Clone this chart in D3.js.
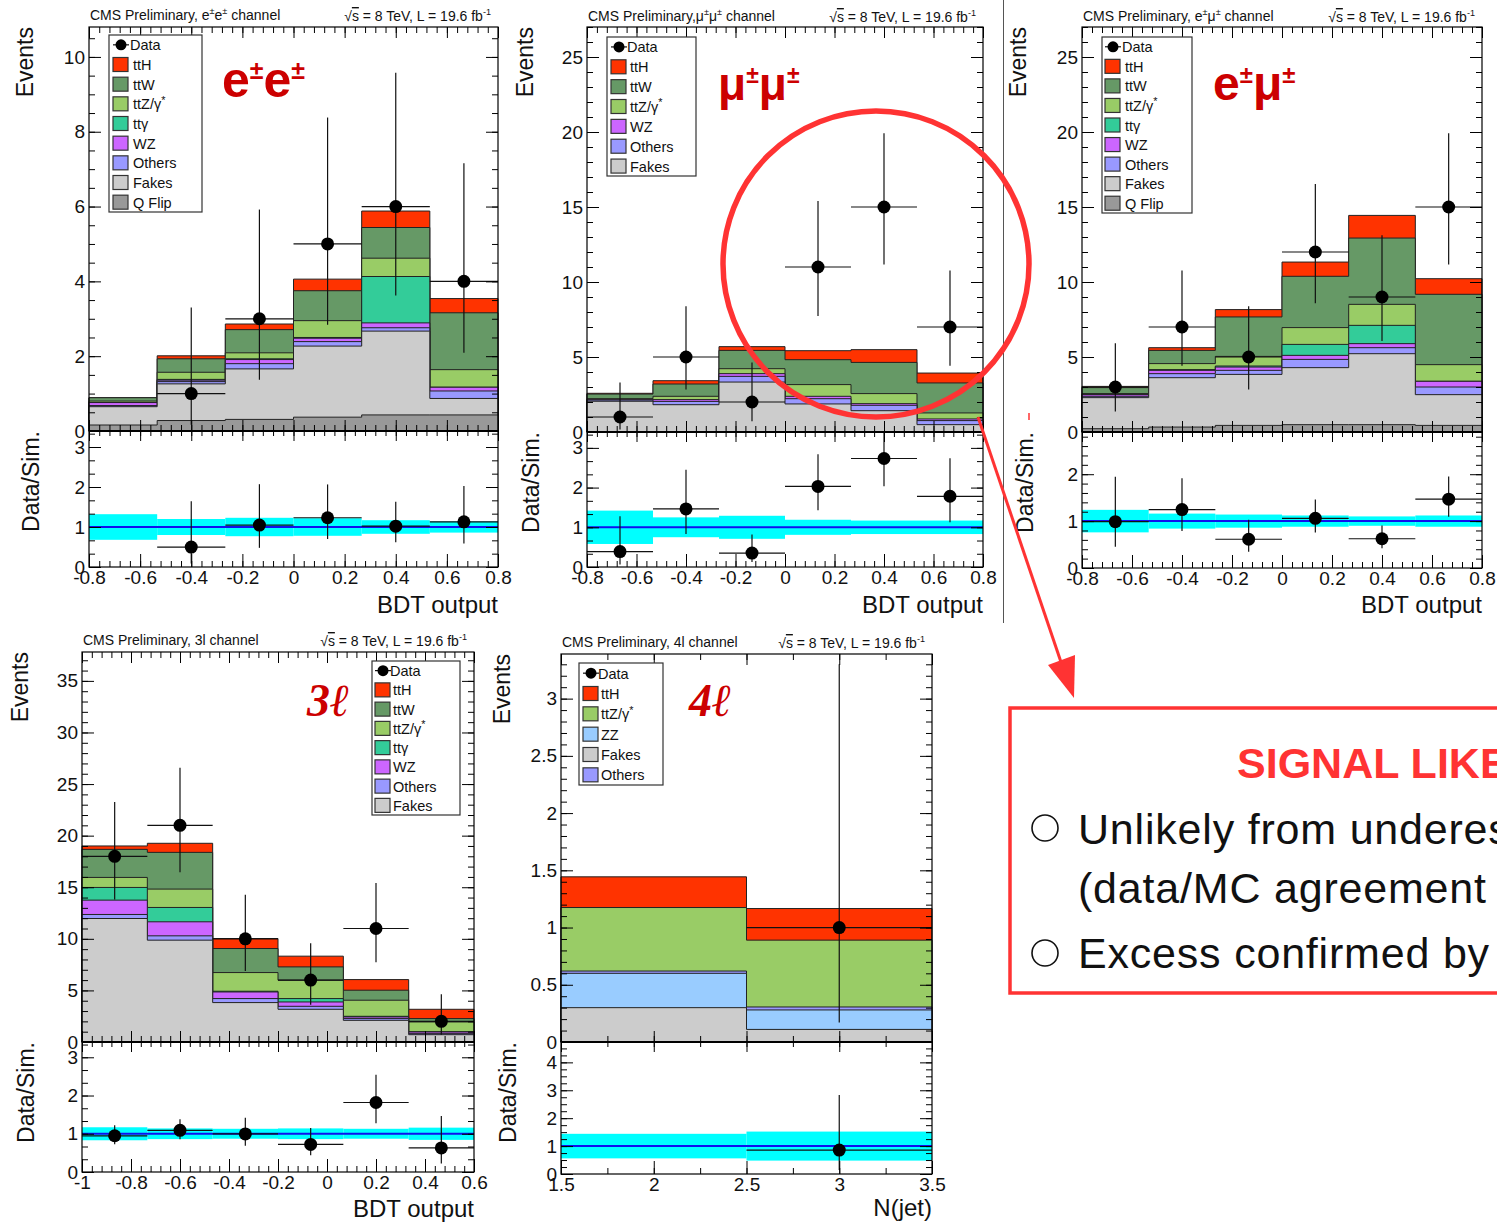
<!DOCTYPE html>
<html>
<head>
<meta charset="utf-8">
<script src="https://cdn.jsdelivr.net/npm/d3@7"></script>
<style>
  body { margin: 0; background: #fff; }
  svg { display: block; font-family: "Liberation Sans", Arial, sans-serif; }
</style>
</head>
<body>
<svg id="fig" width="1497" height="1225"></svg>
<script>
// ---------------- bin edges and tick labels ----------------
const bdtEdges    = [-0.8, -0.5333, -0.2667, 0, 0.2667, 0.5333, 0.8];
const bdtEdges3l  = [-1, -0.7333, -0.4667, -0.2, 0.0667, 0.3333, 0.6];
const njetEdges4l = [1.5, 2.5, 3.5];

const bdtTicks    = [-0.8, -0.6, -0.4, -0.2, 0, 0.2, 0.4, 0.6, 0.8];
const bdtTicks3l  = [-1, -0.8, -0.6, -0.4, -0.2, 0, 0.2, 0.4, 0.6];
const njetTicks   = [1.5, 2, 2.5, 3, 3.5];
const eeYTicks    = [0, 2, 4, 6, 8, 10];
const mmYTicks    = [0, 5, 10, 15, 20, 25];
const emYTicks    = [0, 5, 10, 15, 20, 25];
const l3YTicks    = [0, 5, 10, 15, 20, 25, 30, 35];
const l4YTicks    = [0, 0.5, 1, 1.5, 2, 2.5, 3];
const ratioTicks  = [0, 1, 2, 3];
const ratioTicksEm = [0, 1, 2];
const ratioTicks4l = [0, 1, 2, 3, 4];

// ---------------- e±e± channel ----------------
const eeData    = [0, 1, 3, 5, 6, 4];
const eeErrUp   = [0, 2.30, 2.92, 3.38, 3.58, 3.16];
const eeErrDown = [0, 0.83, 1.63, 2.16, 2.38, 1.91];
const eeQFlip   = [0.16, 0.28, 0.31, 0.37, 0.43, 0.43];
const eeFakes   = [0.49, 0.98, 1.35, 1.90, 2.24, 0.44];
const eeOthers  = [0.03, 0.06, 0.14, 0.12, 0.09, 0.20];
const eeWZ      = [0.08, 0.04, 0.11, 0.09, 0.13, 0.10];
const eeTTgamma = [0.00, 0.02, 0.02, 0.02, 1.24, 0.00];
const eeTTZ     = [0.04, 0.19, 0.16, 0.45, 0.49, 0.47];
const eeTTW     = [0.09, 0.36, 0.62, 0.80, 0.82, 1.52];
const eeTTH     = [0.00, 0.08, 0.15, 0.31, 0.44, 0.38];
const eeSyst    = [0.32, 0.20, 0.23, 0.22, 0.17, 0.14];

// ---------------- μ±μ± channel ----------------
const mmData    = [1, 5, 2, 11, 15, 7];
const mmErrUp   = [2.30, 3.38, 2.64, 4.40, 4.92, 3.77];
const mmErrDown = [0.83, 2.16, 1.29, 3.27, 3.83, 2.58];
const mmFakes   = [2.05, 1.82, 3.33, 1.87, 1.42, 0.49];
const mmOthers  = [0.08, 0.22, 0.38, 0.35, 0.36, 0.27];
const mmWZ      = [0.05, 0.12, 0.18, 0.16, 0.11, 0.11];
const mmTTZ     = [0.04, 0.22, 0.33, 0.78, 0.67, 0.40];
const mmTTW     = [0.31, 0.82, 1.22, 1.66, 2.08, 2.00];
const mmTTH     = [0.05, 0.22, 0.25, 0.60, 0.85, 0.66];
const mmSyst    = [0.42, 0.25, 0.29, 0.19, 0.17, 0.17];

// ---------------- e±μ± channel ----------------
const emData    = [3, 7, 5, 12, 9, 15];
const emErrUp   = [2.92, 3.77, 3.38, 4.53, 4.11, 4.92];
const emErrDown = [1.63, 2.58, 2.16, 3.42, 2.94, 3.83];
const emQFlip   = [0.22, 0.33, 0.44, 0.49, 0.49, 0.44];
const emFakes   = [2.07, 3.29, 3.40, 3.80, 4.73, 2.05];
const emOthers  = [0.09, 0.27, 0.27, 0.55, 0.40, 0.51];
const emWZ      = [0.11, 0.22, 0.22, 0.27, 0.27, 0.38];
const emTTgamma = [0.02, 0.05, 0.07, 0.73, 1.22, 0.00];
const emTTZ     = [0.05, 0.40, 0.64, 1.12, 1.40, 1.11];
const emTTW     = [0.40, 0.88, 2.63, 3.42, 4.42, 4.69];
const emTTH     = [0.08, 0.18, 0.49, 0.95, 1.51, 1.04];
const emSyst    = [0.24, 0.16, 0.14, 0.12, 0.10, 0.12];

// ---------------- 3l channel ----------------
const l3Data    = [18, 21, 10, 6, 11, 2];
const l3ErrUp   = [5.27, 5.59, 4.26, 3.58, 4.40, 2.64];
const l3ErrDown = [4.20, 4.55, 3.11, 2.38, 3.27, 1.29];
const l3Fakes   = [11.97, 9.87, 3.82, 3.17, 2.10, 0.71];
const l3Others  = [0.39, 0.42, 0.39, 0.29, 0.17, 0.10];
const l3WZ      = [1.39, 1.36, 0.64, 0.42, 0.16, 0.16];
const l3TTgamma = [1.23, 1.39, 0.07, 0.33, 0.06, 0.03];
const l3TTZ     = [0.97, 1.78, 1.81, 1.78, 1.56, 0.94];
const l3TTW     = [2.72, 3.56, 2.33, 1.29, 0.97, 0.33];
const l3TTH     = [0.33, 0.88, 0.97, 1.04, 1.03, 0.90];
const l3Syst    = [0.17, 0.14, 0.13, 0.14, 0.13, 0.16];

// ---------------- 4l channel ----------------
const l4Data    = [0, 1];
const l4ErrUp   = [0, 2.30];
const l4ErrDown = [0, 0.83];
const l4Fakes   = [0.30, 0.11];
const l4ZZ      = [0.30, 0.17];
const l4Others  = [0.02, 0.026];
const l4TTZ     = [0.555, 0.584];
const l4TTH     = [0.268, 0.276];
const l4Syst    = [0.44, 0.52];

// ---------------- styles ----------------
const fillColor = {
  ttH: "#ff3300", ttW: "#669966", ttZ: "#99cc66", ttgamma: "#33cc99",
  WZ: "#cc66ff", Others: "#9999ff", Fakes: "#cccccc", QFlip: "#999999", ZZ: "#99ccff"
};
const legendParts = {
  ttH: [{t: "ttH"}], ttW: [{t: "ttW"}], ttZ: [{t: "ttZ/γ"}, {t: "*", sup: true}],
  ttgamma: [{t: "ttγ"}], WZ: [{t: "WZ"}], Others: [{t: "Others"}], Fakes: [{t: "Fakes"}],
  QFlip: [{t: "Q Flip"}], ZZ: [{t: "ZZ"}]
};
const lumiParts = [{t: "√"}, {t: "s", over: true}, {t: " = 8 TeV, L = 19.6 fb"}, {t: "-1", sup: true}];
const channelRed = "#cc0000";
const noteRed = "#ff3333";

const svg = d3.select("#fig");

// text made of runs, some of them raised as superscripts
function richText(sel, parts, size, supScale = 0.65, supShift = 0.42) {
  let shift = 0;
  parts.forEach(p => {
    const ts = sel.append("tspan").text(p.t);
    const target = p.sup ? -size * supShift : 0;
    if (target !== shift) { ts.attr("dy", target - shift); shift = target; }
    if (p.sup) ts.attr("font-size", size * supScale);
    if (p.over) ts.style("text-decoration", "overline");
  });
}

function minorRange(lo, hi, step) {
  return d3.range(lo, hi + 1e-9, step);
}

function axisGroup(parent, axisFn, scale, values, size, labels, tx, ty, pad) {
  const ax = axisFn(scale).tickValues(values).tickSize(-size).tickPadding(pad || 4)
    .tickFormat(labels ? (d => String(+d.toFixed(4))) : (() => ""));
  const gg = parent.append("g").attr("transform", `translate(${tx},${ty})`).call(ax)
    .attr("font-family", null).attr("font-size", null);
  gg.select(".domain").remove();
  gg.selectAll("line").attr("stroke", "#000").attr("stroke-width", 1);
  gg.selectAll("text").attr("font-size", 19).attr("fill", "#111");
  return gg;
}

const panels = [
  {
    edges: bdtEdges, data: eeData, up: eeErrUp, down: eeErrDown, syst: eeSyst,
    stack: [["QFlip", eeQFlip], ["Fakes", eeFakes], ["Others", eeOthers], ["WZ", eeWZ],
            ["ttgamma", eeTTgamma], ["ttZ", eeTTZ], ["ttW", eeTTW], ["ttH", eeTTH]],
    legend: ["ttH", "ttW", "ttZ", "ttgamma", "WZ", "Others", "Fakes", "QFlip"],
    xTicks: bdtTicks, xMinor: 0.04, yTicks: eeYTicks, yMinor: 0.5, rTicks: ratioTicks, rMinor: 1 / 3,
    yMax: 10.8, rMax: 3.4, xTitle: "BDT output",
    box: {x0: 89, x1: 498, top: 27, zero: 431, bottom: 567},
    evX: 33, dsX: 39, xtY: 613, titleX: 90, titleY: 20, lumiX: 491,
    title: [{t: "CMS Preliminary, e"}, {t: "±", sup: true}, {t: "e"}, {t: "±", sup: true}, {t: " channel"}],
    leg: {x: 109, y: 35, w: 93, h: 177, swX: 113, txtX: 133},
    chan: {parts: [{t: "e"}, {t: "±", sup: true}, {t: "e"}, {t: "±", sup: true}], x: 222, y: 97, size: 50}
  },
  {
    edges: bdtEdges, data: mmData, up: mmErrUp, down: mmErrDown, syst: mmSyst,
    stack: [["Fakes", mmFakes], ["Others", mmOthers], ["WZ", mmWZ], ["ttZ", mmTTZ], ["ttW", mmTTW], ["ttH", mmTTH]],
    legend: ["ttH", "ttW", "ttZ", "WZ", "Others", "Fakes"],
    xTicks: bdtTicks, xMinor: 0.04, yTicks: mmYTicks, yMinor: 1, rTicks: ratioTicks, rMinor: 1 / 3,
    yMax: 27, rMax: 3.4, xTitle: "BDT output",
    box: {x0: 587, x1: 983, top: 27, zero: 432, bottom: 567},
    evX: 533, dsX: 539, xtY: 613, titleX: 588, titleY: 21, lumiX: 976,
    title: [{t: "CMS Preliminary,μ"}, {t: "±", sup: true}, {t: "μ"}, {t: "±", sup: true}, {t: " channel"}],
    leg: {x: 607, y: 37, w: 89, h: 139, swX: 611, txtX: 630},
    chan: {parts: [{t: "μ"}, {t: "±", sup: true}, {t: "μ"}, {t: "±", sup: true}], x: 718, y: 100, size: 46}
  },
  {
    edges: bdtEdges, data: emData, up: emErrUp, down: emErrDown, syst: emSyst,
    stack: [["QFlip", emQFlip], ["Fakes", emFakes], ["Others", emOthers], ["WZ", emWZ],
            ["ttgamma", emTTgamma], ["ttZ", emTTZ], ["ttW", emTTW], ["ttH", emTTH]],
    legend: ["ttH", "ttW", "ttZ", "ttgamma", "WZ", "Others", "Fakes", "QFlip"],
    xTicks: bdtTicks, xMinor: 0.04, yTicks: emYTicks, yMinor: 1, rTicks: ratioTicksEm, rMinor: 0.2,
    yMax: 27, rMax: 2.9, xTitle: "BDT output",
    box: {x0: 1082, x1: 1482, top: 27, zero: 432, bottom: 568},
    evX: 1026, dsX: 1033, xtY: 613, titleX: 1083, titleY: 21, lumiX: 1475,
    title: [{t: "CMS Preliminary, e"}, {t: "±", sup: true}, {t: "μ"}, {t: "±", sup: true}, {t: " channel"}],
    leg: {x: 1102, y: 37, w: 90, h: 176, swX: 1105, txtX: 1125},
    chan: {parts: [{t: "e"}, {t: "±", sup: true}, {t: "μ"}, {t: "±", sup: true}], x: 1213, y: 100, size: 48}
  },
  {
    edges: bdtEdges3l, data: l3Data, up: l3ErrUp, down: l3ErrDown, syst: l3Syst,
    stack: [["Fakes", l3Fakes], ["Others", l3Others], ["WZ", l3WZ], ["ttgamma", l3TTgamma],
            ["ttZ", l3TTZ], ["ttW", l3TTW], ["ttH", l3TTH]],
    legend: ["ttH", "ttW", "ttZ", "ttgamma", "WZ", "Others", "Fakes"],
    xTicks: bdtTicks3l, xMinor: 0.04, yTicks: l3YTicks, yMinor: 1, rTicks: ratioTicks, rMinor: 1 / 3,
    yMax: 37.8, rMax: 3.4, xTitle: "BDT output",
    box: {x0: 82, x1: 474, top: 652, zero: 1042, bottom: 1172},
    evX: 28, dsX: 34, xtY: 1217, titleX: 83, titleY: 645, lumiX: 467,
    title: [{t: "CMS Preliminary, 3l channel"}],
    leg: {x: 372, y: 661, w: 88, h: 154, swX: 375, txtX: 393},
    chan: {parts: [{t: "3ℓ"}], x: 307, y: 716, size: 46, serif: true}
  },
  {
    edges: njetEdges4l, data: l4Data, up: l4ErrUp, down: l4ErrDown, syst: l4Syst,
    stack: [["Fakes", l4Fakes], ["ZZ", l4ZZ], ["Others", l4Others], ["ttZ", l4TTZ], ["ttH", l4TTH]],
    legend: ["ttH", "ttZ", "ZZ", "Fakes", "Others"],
    xTicks: njetTicks, xMinor: 0.25, yTicks: l4YTicks, yMinor: 0.1, rTicks: ratioTicks4l, rMinor: 0.25,
    yMax: 3.39, rMax: 4.73, xTitle: "N(jet)",
    box: {x0: 561, x1: 932, top: 654, zero: 1042, bottom: 1174},
    evX: 510, dsX: 516, xtY: 1216, titleX: 562, titleY: 647, lumiX: 925,
    title: [{t: "CMS Preliminary, 4l channel"}],
    leg: {x: 579, y: 663, w: 84, h: 122, swX: 583, txtX: 601},
    chan: {parts: [{t: "4ℓ"}], x: 689, y: 716, size: 46, serif: true}
  }
];

function drawPanel(p) {
  const b = p.box;
  const nb = p.data.length;
  const x = d3.scaleLinear().domain([p.edges[0], p.edges[nb]]).range([b.x0, b.x1]);
  const y = d3.scaleLinear().domain([0, p.yMax]).range([b.zero, b.top]);
  const yr = d3.scaleLinear().domain([0, p.rMax]).range([b.bottom, b.zero]);
  const g = svg.append("g");

  // ---- stacked simulation ----
  let run = new Array(nb).fill(0);
  const layers = p.stack.map(([key, vals]) => {
    run = run.map((v, i) => v + vals[i]);
    return {key, tops: run.slice()};
  });
  const total = layers[layers.length - 1].tops;
  const area = d3.area().curve(d3.curveStepAfter)
    .x(d => x(d.e)).y0(y(0)).y1(d => y(d.v));
  layers.slice().reverse().forEach(L => {
    const pts = L.tops.map((v, i) => ({e: p.edges[i], v}));
    pts.push({e: p.edges[nb], v: L.tops[nb - 1]});
    g.append("path").attr("d", area(pts))
      .attr("fill", fillColor[L.key]).attr("stroke", "#222").attr("stroke-width", 1);
  });

  // ---- observed data ----
  p.data.forEach((n, i) => {
    if (n <= 0) return;
    const cx = x((p.edges[i] + p.edges[i + 1]) / 2);
    g.append("line").attr("x1", cx).attr("x2", cx)
      .attr("y1", y(n - p.down[i])).attr("y2", y(Math.min(n + p.up[i], p.yMax)))
      .attr("stroke", "#111").attr("stroke-width", 1.2);
    g.append("line").attr("x1", x(p.edges[i])).attr("x2", x(p.edges[i + 1]))
      .attr("y1", y(n)).attr("y2", y(n)).attr("stroke", "#111").attr("stroke-width", 1.2);
    g.append("circle").attr("cx", cx).attr("cy", y(n)).attr("r", 6.5).attr("fill", "#000");
  });

  // ---- ratio pad ----
  const rg = svg.append("g");
  rg.append("rect").attr("x", b.x0).attr("y", b.zero).attr("width", b.x1 - b.x0)
    .attr("height", b.bottom - b.zero).attr("fill", "#fff");
  p.syst.forEach((s, i) => {
    rg.append("rect").attr("x", x(p.edges[i])).attr("width", x(p.edges[i + 1]) - x(p.edges[i]))
      .attr("y", yr(1 + s)).attr("height", yr(1 - s) - yr(1 + s)).attr("fill", "#00ffff");
  });
  rg.append("line").attr("x1", b.x0).attr("x2", b.x1).attr("y1", yr(1)).attr("y2", yr(1))
    .attr("stroke", "#1010ee").attr("stroke-width", 2);
  p.data.forEach((n, i) => {
    if (n <= 0) return;
    const r = n / total[i];
    const cx = x((p.edges[i] + p.edges[i + 1]) / 2);
    rg.append("line").attr("x1", cx).attr("x2", cx)
      .attr("y1", yr(Math.max(0, (n - p.down[i]) / total[i])))
      .attr("y2", yr(Math.min(p.rMax, (n + p.up[i]) / total[i])))
      .attr("stroke", "#111").attr("stroke-width", 1.2);
    rg.append("line").attr("x1", x(p.edges[i])).attr("x2", x(p.edges[i + 1]))
      .attr("y1", yr(r)).attr("y2", yr(r)).attr("stroke", "#111").attr("stroke-width", 1.2);
    rg.append("circle").attr("cx", cx).attr("cy", yr(r)).attr("r", 6.5).attr("fill", "#000");
  });

  // ---- frames ----
  [[b.top, b.zero], [b.zero, b.bottom]].forEach(([t, bt]) => {
    svg.append("rect").attr("x", b.x0).attr("y", t).attr("width", b.x1 - b.x0).attr("height", bt - t)
      .attr("fill", "none").attr("stroke", "#000").attr("stroke-width", 1.2);
  });
  svg.append("line").attr("x1", b.x0).attr("x2", b.x1).attr("y1", b.zero).attr("y2", b.zero)
    .attr("stroke", "#000").attr("stroke-width", 2.2);

  // ---- axes (inward ticks on all four sides) ----
  const ax = svg.append("g");
  const xMin = minorRange(p.edges[0], p.edges[nb], p.xMinor);
  const yMin = minorRange(0, p.yMax, p.yMinor);
  const rMin = minorRange(0, p.rMax, p.rMinor);
  // main pad
  axisGroup(ax, d3.axisLeft, y, yMin, 6, false, b.x0, 0);
  axisGroup(ax, d3.axisLeft, y, p.yTicks, 12, true, b.x0, 0, 4);
  axisGroup(ax, d3.axisRight, y, yMin, 6, false, b.x1, 0);
  axisGroup(ax, d3.axisRight, y, p.yTicks, 12, false, b.x1, 0);
  axisGroup(ax, d3.axisTop, x, xMin, 6, false, 0, b.top);
  axisGroup(ax, d3.axisTop, x, p.xTicks, 11, false, 0, b.top);
  axisGroup(ax, d3.axisBottom, x, xMin, 6, false, 0, b.zero);
  axisGroup(ax, d3.axisBottom, x, p.xTicks, 11, false, 0, b.zero);
  // ratio pad
  axisGroup(ax, d3.axisLeft, yr, rMin, 6, false, b.x0, 0);
  axisGroup(ax, d3.axisLeft, yr, p.rTicks, 12, true, b.x0, 0, 4);
  axisGroup(ax, d3.axisRight, yr, rMin, 6, false, b.x1, 0);
  axisGroup(ax, d3.axisRight, yr, p.rTicks, 12, false, b.x1, 0);
  axisGroup(ax, d3.axisTop, x, xMin, 5, false, 0, b.zero);
  axisGroup(ax, d3.axisTop, x, p.xTicks, 10, false, 0, b.zero);
  axisGroup(ax, d3.axisBottom, x, xMin, 6, false, 0, b.bottom);
  axisGroup(ax, d3.axisBottom, x, p.xTicks, 13, true, 0, b.bottom, 4);

  // ---- axis titles ----
  svg.append("text").attr("transform", `translate(${p.evX},${b.top}) rotate(-90)`)
    .attr("text-anchor", "end").attr("font-size", 23).attr("fill", "#111").text("Events");
  svg.append("text").attr("transform", `translate(${p.dsX},${b.zero}) rotate(-90)`)
    .attr("text-anchor", "end").attr("font-size", 23).attr("fill", "#111").text("Data/Sim.");
  svg.append("text").attr("x", b.x1).attr("y", p.xtY).attr("text-anchor", "end")
    .attr("font-size", 24).attr("fill", "#111").text(p.xTitle);

  // ---- header ----
  richText(svg.append("text").attr("x", p.titleX).attr("y", p.titleY)
    .attr("font-size", 14).attr("fill", "#111"), p.title, 14);
  richText(svg.append("text").attr("x", p.lumiX).attr("y", p.titleY + 1).attr("text-anchor", "end")
    .attr("font-size", 14).attr("fill", "#111"), lumiParts, 14);

  // ---- legend ----
  const L = p.leg;
  const rows = 1 + p.legend.length;
  const rowH = L.h / rows;
  const lg = svg.append("g");
  lg.append("rect").attr("x", L.x).attr("y", L.y).attr("width", L.w).attr("height", L.h)
    .attr("fill", "#fff").attr("stroke", "#333").attr("stroke-width", 1.2);
  const cy0 = L.y + rowH / 2;
  lg.append("line").attr("x1", L.swX).attr("x2", L.swX + 16).attr("y1", cy0).attr("y2", cy0)
    .attr("stroke", "#111").attr("stroke-width", 1.2);
  lg.append("circle").attr("cx", L.swX + 8).attr("cy", cy0).attr("r", 5.5).attr("fill", "#000");
  lg.append("text").attr("x", L.txtX - 3).attr("y", cy0 + 5.5).attr("font-size", 14.5)
    .attr("fill", "#111").text("Data");
  p.legend.forEach((k, j) => {
    const cy = L.y + rowH * (j + 1.5);
    lg.append("rect").attr("x", L.swX).attr("y", cy - 7).attr("width", 15).attr("height", 14)
      .attr("fill", fillColor[k]).attr("stroke", "#333").attr("stroke-width", 1.2);
    richText(lg.append("text").attr("x", L.txtX).attr("y", cy + 5.5).attr("font-size", 14.5)
      .attr("fill", "#111"), legendParts[k], 14.5, 0.75, 0.38);
  });

  // ---- channel label ----
  const c = p.chan;
  const ct = svg.append("text").attr("x", c.x).attr("y", c.y).attr("font-size", c.size)
    .attr("font-weight", "bold").attr("fill", channelRed);
  if (c.serif) ct.attr("font-family", "'Liberation Serif', 'DejaVu Serif', serif").attr("font-style", "italic");
  richText(ct, c.parts, c.size, 0.5, 0.36);
}

panels.forEach(drawPanel);

// separator between the upper-row plots
svg.append("line").attr("x1", 1003.5).attr("x2", 1003.5).attr("y1", 0).attr("y2", 623)
  .attr("stroke", "#555").attr("stroke-width", 1);
svg.append("line").attr("x1", 1029).attr("x2", 1029).attr("y1", 413).attr("y2", 420)
  .attr("stroke", noteRed).attr("stroke-width", 1.5);

// ---- highlighted excess and note ----
svg.append("circle").attr("cx", 876).attr("cy", 264).attr("r", 153)
  .attr("fill", "none").attr("stroke", noteRed).attr("stroke-width", 5.5);
svg.append("line").attr("x1", 978).attr("y1", 417).attr("x2", 1063).attr("y2", 668)
  .attr("stroke", noteRed).attr("stroke-width", 3);
svg.append("path").attr("d", "M1048,665 L1075,655 L1074,698 Z").attr("fill", noteRed);

const note = svg.append("g");
note.append("rect").attr("x", 1010).attr("y", 708).attr("width", 600).attr("height", 285)
  .attr("fill", "#fff").attr("stroke", noteRed).attr("stroke-width", 3.5);
note.append("text").attr("x", 1237).attr("y", 778).attr("font-size", 43).attr("font-weight", "bold")
  .attr("fill", noteRed).text("SIGNAL LIKE");
[828, 953].forEach(cy => note.append("circle").attr("cx", 1045).attr("cy", cy).attr("r", 13)
  .attr("fill", "none").attr("stroke", "#111").attr("stroke-width", 1.6));
[["Unlikely from underestimated", 844], ["(data/MC agreement", 903], ["Excess confirmed by", 968]]
  .forEach(([t, yy]) => note.append("text").attr("x", 1078).attr("y", yy).attr("font-size", 43)
    .attr("letter-spacing", 0.8).attr("fill", "#111").text(t));
</script>
</body>
</html>
